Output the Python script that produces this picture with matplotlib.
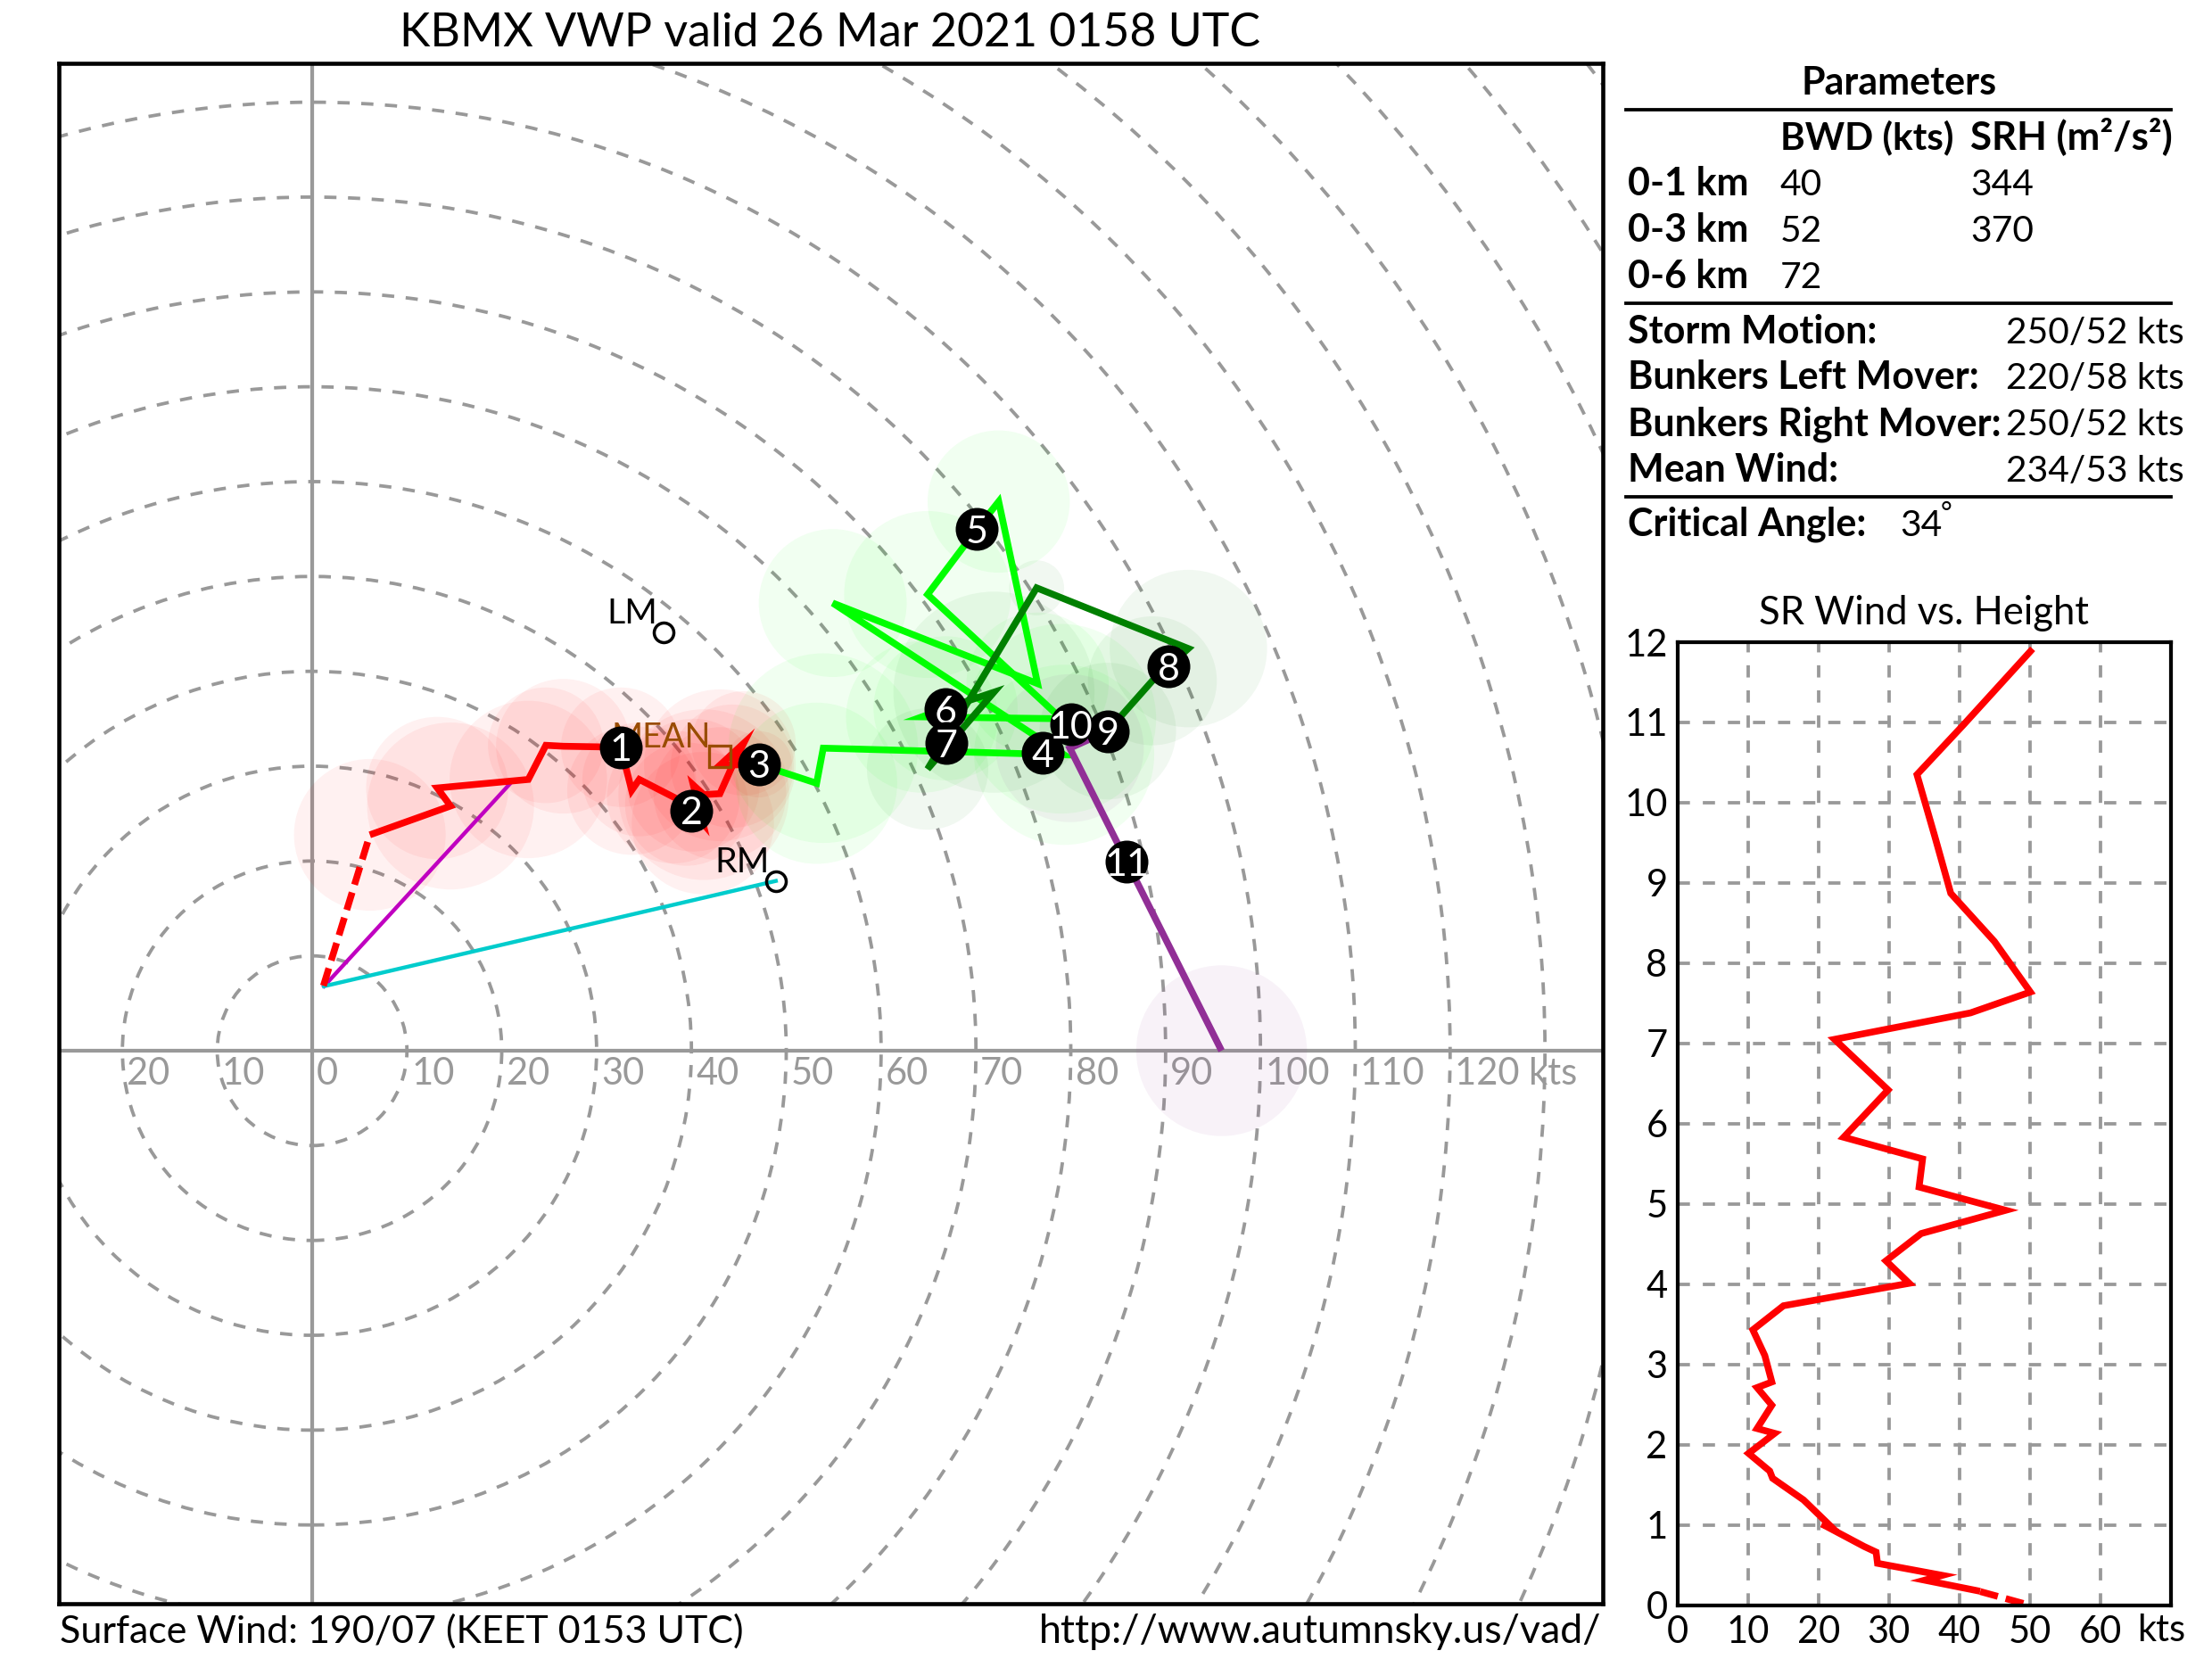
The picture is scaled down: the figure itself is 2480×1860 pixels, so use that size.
import matplotlib
matplotlib.use("Agg")
import matplotlib.pyplot as plt
from matplotlib.patches import Circle

FONT = "Lato"
plt.rcParams['font.family'] = [FONT, 'DejaVu Sans']

W, H = 2480, 1860
DPI = 200

# ---- hodograph data (kts) ----
surface_u = [1.2]
surface_v = [6.85]

red_u = [6.09, 14.6, 13.2, 22.8, 24.65, 26.5, 32.55, 33.7, 34.5, 38.1, 39.5, 41.2, 40.2, 41.3, 43.0, 44.3, 45.5, 43.0, 47.1]
red_v = [22.76, 25.8, 27.7, 28.6, 32.2, 32.1, 32.0, 27.45, 28.6, 26.75, 26.0, 24.0, 28.0, 27.0, 27.1, 30.0, 32.4, 30.1, 30.2]
red_r = [8.0, 8.8, 7.5, 8.3, 6.1, 7.1, 6.3, 6.8, 6.0, 7.0, 6.5, 7.5, 7.0, 9.0, 7.0, 6.5, 5.5, 8.0, 3.5]

lime_u = [47.1, 53.2, 53.9, 79.3, 54.9, 76.5, 72.4, 70.1, 64.9, 79.0, 64.3, 66.8]
lime_v = [30.2, 28.2, 31.9, 31.2, 47.2, 38.7, 57.9, 55.0, 48.1, 35.0, 35.2, 36.1]
lime_r = [0, 8.5, 10.0, 9.5, 7.8, 7.5, 7.5, 0, 8.8, 10.0, 8.0, 7.6]

dark_u = [66.8, 71.9, 64.9, 76.4, 92.4, 88.6, 83.9]
dark_v = [36.1, 37.8, 29.7, 48.8, 42.4, 39.0, 33.7]
dark_r = [0, 10.6, 6.4, 2.9, 8.3, 6.8, 7.2]

purple_u = [83.9, 79.9, 95.9]
purple_v = [33.7, 31.9, 0.0]
purple_r = [0, 7.8, 9.0]

marker_labels = ["1", "2", "3", "4", "5", "6", "7", "8", "9", "10", "11"]
marker_u = [32.55, 40.0, 47.1, 77.0, 70.1, 66.8, 66.9, 90.3, 83.9, 80.0, 85.9]
marker_v = [32.0, 25.3, 30.2, 31.4, 55.0, 36.0, 32.4, 40.5, 33.7, 34.4, 19.9]

origin_u, origin_v = 1.26, 6.8
shear_end_u, shear_end_v = 21.1, 28.4
rm_u, rm_v = 48.9, 17.9
lm_u, lm_v = 37.1, 44.1
mean_u, mean_v = 43.0, 31.0

ring_speeds = list(range(10, 200, 10))
hodo_tick_vals = [-20, -10, 0, 10, 20, 30, 40, 50, 60, 70, 80, 90, 100, 110, 120]

# ---- SR wind profile ----
sr_dash_speed = [49.1, 42.5]
sr_dash_height = [0.02, 0.18]
sr_speed = [42.5, 35.1, 37.6, 28.4, 28.2, 26.5, 20.5, 21.9, 17.9, 13.5, 13.1, 10.1, 13.8, 11.3, 13.4, 11.3, 13.4, 12.4, 10.7, 15.05, 32.9, 29.6, 34.6, 46.6, 34.3, 34.8, 23.6, 29.9, 22.3, 41.6, 50.1, 45.0, 38.8, 36.5, 34.0, 40.6, 50.1]
sr_height = [0.18, 0.31, 0.37, 0.52, 0.66, 0.73, 1.01, 0.97, 1.31, 1.58, 1.67, 1.89, 2.14, 2.2, 2.49, 2.71, 2.78, 3.11, 3.43, 3.73, 4.01, 4.29, 4.63, 4.92, 5.21, 5.56, 5.83, 6.42, 7.05, 7.38, 7.64, 8.27, 8.87, 9.59, 10.35, 10.97, 11.886]
sr_xticks = [0, 10, 20, 30, 40, 50, 60]
sr_yticks = list(range(0, 13))

# ---- parameter table text ----
param_rows = ["0-1 km", "0-3 km", "0-6 km"]
param_bwd = ["40", "52", "72"]
param_srh = ["344", "370", ""]
motion_labels = ["Storm Motion:", "Bunkers Left Mover:", "Bunkers Right Mover:", "Mean Wind:"]
motion_values = ["250/52 kts", "220/58 kts", "250/52 kts", "234/53 kts"]

GREY = "#999999"
RED, LIME, DARK, PURPLE = "#ff0000", "#00ff00", "#008000", "#912f96"
BROWN = "#994c00"
PX = 72 / DPI  # points per pixel
FS = 15.0
BOLD = 15.5
RING_LW = 3.8 * PX
RING_DASH = (0, (3.6, 3.4))

fig = plt.figure(figsize=(W / DPI, H / DPI), dpi=DPI)


def axes_px(l, t, r, b):
    return fig.add_axes([l / W, 1 - b / H, (r - l) / W, (b - t) / H])


def ftext(x, y, s, **kw):
    kw.setdefault("fontsize", FS)
    kw.setdefault("va", "baseline")
    fig.text(x / W, 1 - y / H, s, **kw)


ax = axes_px(66, 71, 1797, 1798)
ax.set_xlim(-26.7, 136.1)
ax.set_ylim(-58.3, 104.1)
ax.set_xticks([])
ax.set_yticks([])
for s in ax.spines.values():
    s.set_linewidth(4.6 * PX)
    s.set_zorder(20)

ax.axhline(0, color=GREY, lw=4.2 * PX, zorder=1)
ax.axvline(0, color=GREY, lw=4.2 * PX, zorder=1)
for sp in ring_speeds:
    ax.add_patch(Circle((0, 0), sp, fill=False, ec=GREY, lw=RING_LW, ls=RING_DASH, zorder=1))
for k in hodo_tick_vals:
    s = str(abs(k))
    if k == 120:
        s = "120 kts"
    ax.annotate(s, (k, 0), xytext=(1.8, -13.8), textcoords="offset points", ha="left", va="baseline",
                color=GREY, fontsize=FS, zorder=2)

for us, vs, rs, c, al in [(red_u, red_v, red_r, RED, 0.055), (lime_u, lime_v, lime_r, LIME, 0.055),
                          (dark_u, dark_v, dark_r, DARK, 0.055), (purple_u, purple_v, purple_r, PURPLE, 0.06)]:
    for u, v, r in zip(us, vs, rs):
        if r > 0:
            ax.add_patch(Circle((u, v), r, fc=c, ec="none", alpha=al, zorder=2))

LW = 7.6 * PX
DASH = (0, (2.7, 1.2))
ax.plot([origin_u, shear_end_u], [origin_v, shear_end_v], color="#c000c0", lw=4.4 * PX, zorder=3)
ax.plot([origin_u, rm_u], [origin_v, rm_v], color="#00cccc", lw=4.4 * PX, zorder=3)
ax.plot([surface_u[0], red_u[0]], [surface_v[0], red_v[0]], color=RED, lw=LW, ls=DASH, zorder=4)
for us, vs, c in [(red_u, red_v, RED), (lime_u, lime_v, LIME), (dark_u, dark_v, DARK), (purple_u, purple_v, PURPLE)]:
    ax.plot(us, vs, color=c, lw=LW, solid_joinstyle="miter", solid_capstyle="butt", zorder=4)

for (u, v, s) in [(rm_u, rm_v, "RM"), (lm_u, lm_v, "LM")]:
    ax.plot([u], [v], "o", mfc="none", mec="black", mew=3.5 * PX, ms=22 * PX, zorder=5)
    ax.annotate(s, (u, v), xytext=(-2.6, 3.6), textcoords="offset points", ha="right", va="baseline",
                fontsize=14.2, color="black", zorder=5)
ax.plot([mean_u], [mean_v], "s", mfc="none", mec=BROWN, mew=3.3 * PX, ms=24 * PX, zorder=5)
ax.annotate("MEAN", (mean_u, mean_v), xytext=(-3.6, 3.6), textcoords="offset points", ha="right", va="baseline",
            fontsize=13.6, color=BROWN, zorder=5)

for i, (u, v, s) in enumerate(zip(marker_u, marker_v, marker_labels)):
    ax.plot([u], [v], "o", color="black", ms=48 * PX, mew=0, zorder=6 + i * 0.1)
    ax.text(u, v, s, color="white", ha="center", va="center_baseline", fontsize=15.5, zorder=6.05 + i * 0.1)

ftext(931, 52, "KBMX VWP valid 26 Mar 2021 0158 UTC", fontsize=18.7, ha="center")
ftext(67, 1842, "Surface Wind: 190/07 (KEET 0153 UTC)", fontsize=15.5)
ftext(1795, 1842, "http://www.autumnsky.us/vad/", fontsize=16.1, ha="right")

# ---- SR panel ----
sr = axes_px(1880.7, 720, 2433.5, 1799.5)
sr.set_xlim(0, 70)
sr.set_ylim(0, 12)
for s in sr.spines.values():
    s.set_linewidth(4.2 * PX)
    s.set_zorder(20)
sr.set_xticks(sr_xticks)
sr.set_xticklabels([str(v) for v in sr_xticks], fontsize=FS)
sr.set_yticks(sr_yticks)
sr.set_yticklabels([str(v) for v in sr_yticks], fontsize=FS)
sr.tick_params(length=0, pad=4)
sr.grid(True, color=GREY, lw=RING_LW, ls=(0, (3.6, 3.8)), zorder=1)
sr.set_axisbelow(True)
sr.plot(sr_speed, sr_height, color=RED, lw=LW, solid_joinstyle="miter", zorder=4)
sr.plot(sr_dash_speed, sr_dash_height, color=RED, lw=LW, ls=DASH, zorder=4, clip_on=False)
ftext(2396, 1840, "kts", ha="left")
ftext(2157, 700, "SR Wind vs. Height", fontsize=15.7, ha="center")

# ---- parameters ----
for y in [123, 340, 557]:
    fig.add_artist(plt.Line2D([1823 / W, 2433.5 / W], [1 - y / H, 1 - y / H], color="black", lw=3.8 * PX))
ftext(2129, 105.5, "Parameters", fontsize=BOLD, ha="center", fontweight="bold")
ftext(1996, 167, "BWD (kts)", fontsize=BOLD - 0.3, fontweight="bold")
ftext(2209, 167, "SRH (m²/s²)", fontsize=BOLD + 0.3, fontweight="bold")
for y, a, b, c in zip([219, 271, 323], param_rows, param_bwd, param_srh):
    ftext(1825, y, a, fontsize=BOLD, fontweight="bold")
    ftext(1996, y, b, fontsize=14.7)
    ftext(2209, y, c, fontsize=14.7)
for y, a, b in zip([385, 436, 488, 540], motion_labels, motion_values):
    ftext(1825, y, a, fontsize=BOLD, fontweight="bold")
    ftext(2449, y, b, fontsize=14.7, ha="right")
ftext(1825, 601, "Critical Angle:", fontsize=BOLD, fontweight="bold")
ftext(2130, 601, "34", fontsize=14.7)
ftext(2176, 585, "°", fontsize=11)

fig.savefig("out.png", dpi=DPI)
